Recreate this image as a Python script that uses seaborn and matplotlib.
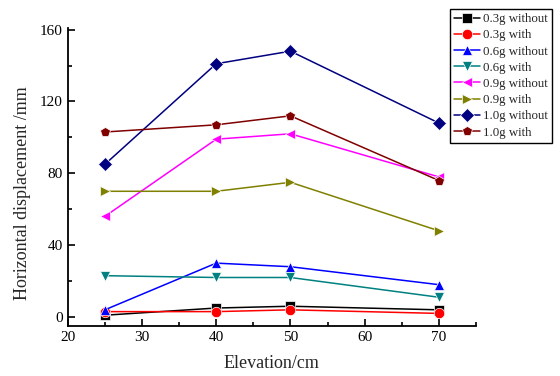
import matplotlib
matplotlib.use("Agg")
import matplotlib.pyplot as plt
import pandas as pd
import seaborn as sns
from matplotlib.ticker import MultipleLocator

elevation = [25, 40, 50, 70]
series_names = ["0.3g without", "0.3g with", "0.6g without", "0.6g with",
                "0.9g without", "0.9g with", "1.0g without", "1.0g with"]
disp_03_without = [1, 5, 6, 4]
disp_03_with = [3, 3, 4, 2]
disp_06_without = [4, 30, 28, 18]
disp_06_with = [23, 22, 22, 11]
disp_09_without = [56, 99, 102, 78]
disp_09_with = [70, 70, 75, 48]
disp_10_without = [85, 141, 148, 108]
disp_10_with = [103, 107, 112, 76]

series_values = [disp_03_without, disp_03_with, disp_06_without, disp_06_with,
                 disp_09_without, disp_09_with, disp_10_without, disp_10_with]

colors = ["black", "red", "blue", "#008080", "magenta", "#808000", "#000080", "#800000"]
markers = ["s", "o", "^", "v", "<", ">", "D", "p"]

rows = []
for name, vals in zip(series_names, series_values):
    for e, v in zip(elevation, vals):
        rows.append({"Elevation": e, "Displacement": v, "Series": name})
df = pd.DataFrame(rows)

sns.set_style("ticks")
plt.rcParams["font.family"] = ["Liberation Serif", "DejaVu Serif"]

fig = plt.figure(figsize=(5.6, 3.76), dpi=100)
ax = fig.add_axes([0.121, 0.133, 0.729, 0.793])

sns.lineplot(data=df, x="Elevation", y="Displacement", hue="Series", style="Series",
             hue_order=series_names, style_order=series_names,
             palette=colors, markers=markers, dashes=False, markersize=7.5,
             markeredgewidth=0.5, linewidth=1.1, ax=ax)

ax.set_xlim(20, 75)
ax.set_ylim(-5, 161)
ax.xaxis.set_major_locator(MultipleLocator(10))
ax.xaxis.set_minor_locator(MultipleLocator(5))
ax.yaxis.set_major_locator(MultipleLocator(40))
ax.yaxis.set_minor_locator(MultipleLocator(20))
ax.tick_params(which="both", direction="in", width=1.2, labelsize=11, colors="black")
ax.tick_params(which="major", length=5)
ax.tick_params(which="minor", length=3)
for s in ["top", "right"]:
    ax.spines[s].set_visible(False)
for s in ["left", "bottom"]:
    ax.spines[s].set_linewidth(1.3)
    ax.spines[s].set_color("black")

ax.set_xlabel("Elevation/cm", fontsize=13, labelpad=8)
ax.set_ylabel("Horizontal displacement /mm", fontsize=13)
ax.yaxis.set_label_coords(-0.09, 0.446)

leg = ax.legend(loc="upper left", bbox_to_anchor=(0.936, 1.064), fontsize=9.3,
                frameon=True, fancybox=False, edgecolor="black", framealpha=1,
                borderpad=0.35, labelspacing=0.32, handlelength=2.0, handletextpad=0.2,
                borderaxespad=0)
leg.get_frame().set_linewidth(1.0)

fig.savefig("out.png", dpi=100)
